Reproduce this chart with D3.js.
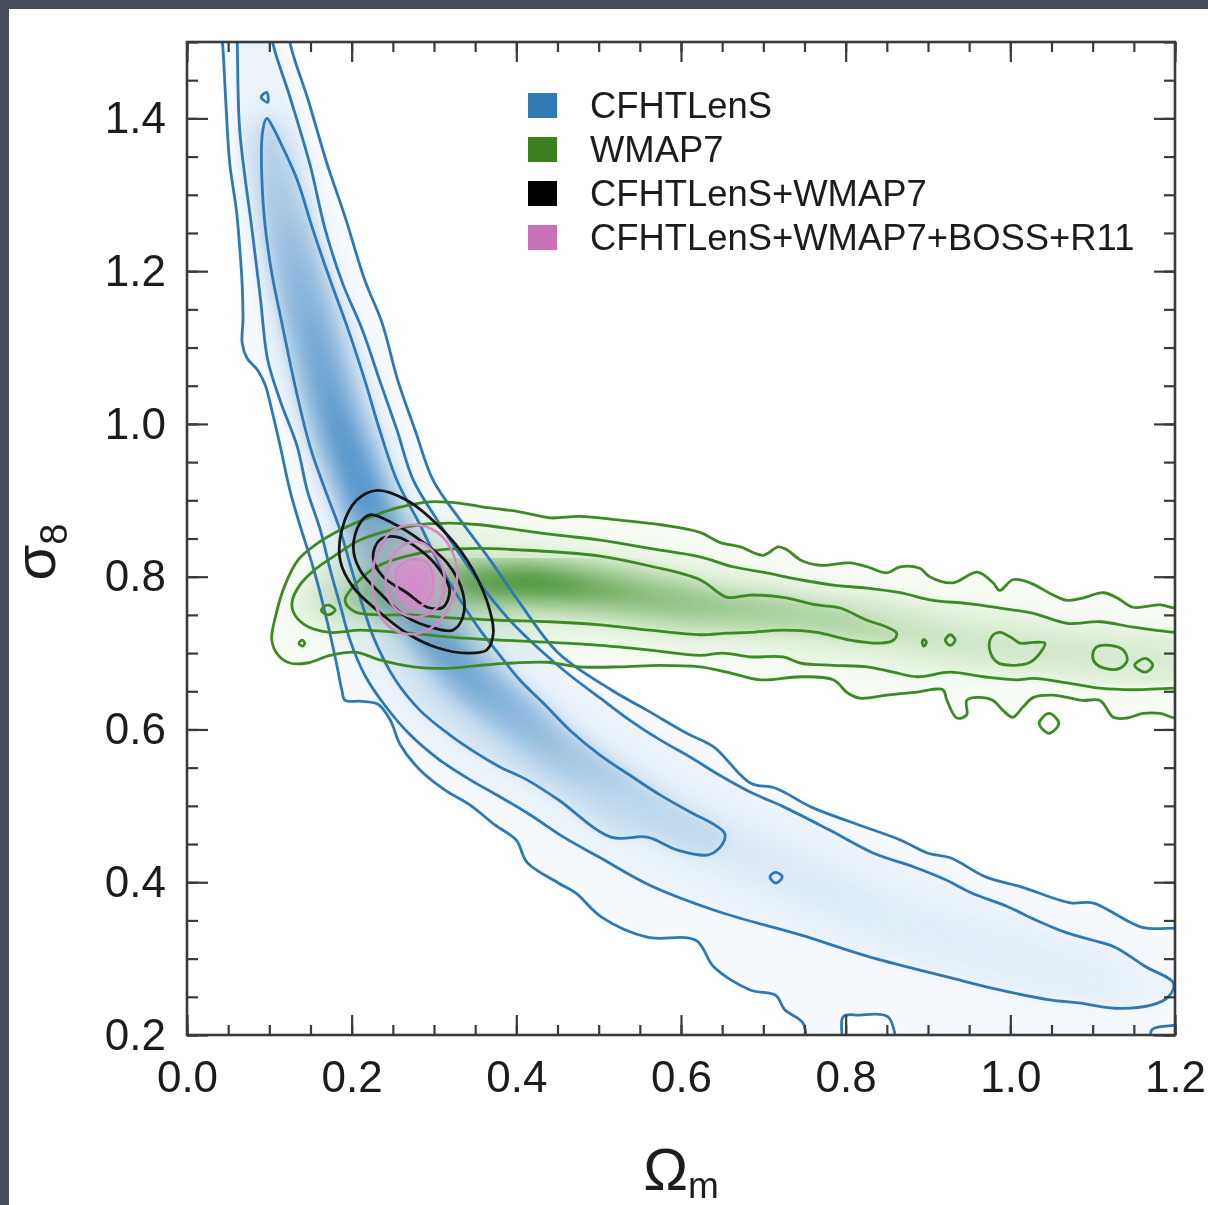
<!DOCTYPE html>
<html>
<head>
<meta charset="utf-8">
<script src="https://cdn.jsdelivr.net/npm/d3@7"></script>
<style>
  html, body { margin: 0; padding: 0; background: #474c5a; }
  svg { display: block; }
  text { font-family: "Liberation Sans", Arimo, Helvetica, Arial, sans-serif; }
</style>
</head>
<body>
<svg id="chart" width="1208" height="1205"></svg>
<script>
// ---------------------------------------------------------------
// Axis ranges and ticks
// ---------------------------------------------------------------
const omegaDomain = [0.0, 1.2];
const sigmaDomain = [0.2, 1.5];
const xMajorTicks = [0.0, 0.2, 0.4, 0.6, 0.8, 1.0, 1.2];
const yMajorTicks = [0.2, 0.4, 0.6, 0.8, 1.0, 1.2, 1.4];
const xMinorTicks = d3.range(0, 1.2001, 0.05);
const yMinorTicks = d3.range(0.2, 1.5001, 0.05);

// Legend
const legendLabels = ["CFHTLenS", "WMAP7", "CFHTLenS+WMAP7", "CFHTLenS+WMAP7+BOSS+R11"];
const legendColors = ["#2f79b5", "#3c7f1d", "#000000", "#c970b8"];

// ---------------------------------------------------------------
// Confidence contours, [Omega_m, sigma_8] along each closed curve
// ---------------------------------------------------------------
// CFHTLenS
const cfhtOuter = [
  [0.040,1.522],[0.043,1.500],[0.047,1.424],[0.052,1.340],[0.060,1.280],[0.064,1.231],
  [0.067,1.182],[0.068,1.136],[0.067,1.106],[0.073,1.086],[0.086,1.070],[0.095,1.051],
  [0.103,1.018],[0.113,0.972],[0.125,0.913],[0.137,0.868],[0.153,0.813],[0.164,0.769],
  [0.174,0.724],[0.182,0.684],[0.188,0.652],[0.192,0.638],[0.210,0.637],[0.232,0.633],
  [0.247,0.612],[0.259,0.580],[0.283,0.547],[0.313,0.521],[0.344,0.501],[0.374,0.475],
  [0.400,0.455],[0.413,0.426],[0.451,0.399],[0.472,0.386],[0.504,0.354],[0.559,0.328],
  [0.618,0.324],[0.640,0.289],[0.684,0.259],[0.715,0.252],[0.726,0.233],[0.748,0.216],
  [0.757,0.180],[0.793,0.180],[0.797,0.224],[0.817,0.226],[0.851,0.224],[0.872,0.180],
  [1.167,0.180],[1.172,0.207],[1.200,0.213],[1.224,0.220],
  [1.224,0.340],[1.200,0.340],[1.160,0.341],[1.100,0.373],[1.073,0.373],[1.013,0.394],
  [0.970,0.407],[0.927,0.432],[0.900,0.438],[0.867,0.455],[0.824,0.472],[0.759,0.498],
  [0.715,0.523],[0.684,0.530],[0.640,0.577],[0.607,0.595],[0.559,0.625],[0.515,0.652],
  [0.451,0.700],[0.402,0.769],[0.368,0.822],[0.332,0.874],[0.299,0.926],[0.277,0.992],
  [0.256,1.057],[0.237,1.132],[0.216,1.188],[0.192,1.271],[0.170,1.341],[0.146,1.428],
  [0.131,1.476],[0.125,1.500],[0.124,1.522]
];
const cfhtMiddle = [
  [0.060,1.522],[0.061,1.500],[0.064,1.385],[0.079,1.254],[0.089,1.166],[0.098,1.084],
  [0.113,1.031],[0.134,0.970],[0.146,0.913],[0.162,0.861],[0.174,0.809],[0.186,0.763],
  [0.198,0.717],[0.216,0.671],[0.240,0.632],[0.271,0.593],[0.307,0.560],[0.344,0.534],
  [0.380,0.512],[0.417,0.488],[0.459,0.458],[0.502,0.432],[0.562,0.396],[0.647,0.361],
  [0.745,0.331],[0.830,0.302],[0.927,0.275],[0.987,0.259],[1.048,0.246],[1.083,0.242],
  [1.127,0.235],[1.171,0.239],[1.192,0.250],[1.198,0.268],[1.165,0.289],[1.127,0.315],
  [1.100,0.324],[1.068,0.334],[1.030,0.351],[0.997,0.368],[0.953,0.386],[0.922,0.403],
  [0.883,0.420],[0.834,0.438],[0.781,0.468],[0.726,0.498],[0.684,0.518],[0.647,0.540],
  [0.611,0.564],[0.575,0.586],[0.538,0.612],[0.502,0.641],[0.465,0.671],[0.429,0.704],
  [0.392,0.743],[0.362,0.782],[0.332,0.828],[0.304,0.874],[0.275,0.926],[0.255,0.992],
  [0.234,1.057],[0.213,1.123],[0.189,1.184],[0.168,1.254],[0.149,1.341],[0.125,1.428],
  [0.104,1.500],[0.103,1.522]
];
const cfhtInner = [
  [0.097,1.400],[0.092,1.384],[0.092,1.297],[0.101,1.210],[0.117,1.123],[0.131,1.051],
  [0.149,0.972],[0.168,0.913],[0.186,0.861],[0.200,0.809],[0.213,0.763],[0.228,0.717],
  [0.253,0.665],[0.283,0.625],[0.319,0.593],[0.356,0.566],[0.380,0.551],[0.413,0.534],
  [0.451,0.508],[0.515,0.459],[0.559,0.459],[0.596,0.442],[0.634,0.436],[0.651,0.451],
  [0.653,0.464],[0.641,0.475],[0.611,0.492],[0.575,0.514],[0.538,0.540],[0.502,0.566],
  [0.465,0.599],[0.435,0.632],[0.404,0.665],[0.380,0.697],[0.356,0.730],[0.332,0.769],
  [0.307,0.815],[0.283,0.868],[0.255,0.926],[0.234,0.992],[0.216,1.057],[0.194,1.129],
  [0.174,1.188],[0.153,1.254],[0.134,1.319],[0.115,1.365],[0.103,1.391]
];
const cfhtIslands = [
  [[0.090,1.428],[0.097,1.434],[0.098,1.421]],
  [[0.708,0.407],[0.715,0.413],[0.723,0.407],[0.715,0.399]]
];
// Ridge of the CFHTLenS posterior: [Omega_m, sigma_8, relative density]
const cfhtRidge = [
  [0.098,1.371,0.20],[0.113,1.293,0.30],[0.131,1.214,0.45],[0.149,1.136,0.60],
  [0.168,1.057,0.70],[0.186,0.992,0.80],[0.204,0.940,0.85],[0.222,0.887,0.85],
  [0.240,0.841,0.80],[0.259,0.796,0.75],[0.283,0.750,0.70],[0.313,0.704,0.70],
  [0.344,0.665,0.65],[0.380,0.632,0.55],[0.417,0.599,0.45],[0.453,0.566,0.35],
  [0.502,0.534,0.25],[0.562,0.495,0.15],[0.647,0.449,0.10],[0.745,0.403,0.07],
  [0.866,0.344,0.05],[0.987,0.305,0.04],[1.109,0.265,0.03]
];

// WMAP7
const wmapOuter = [
  [0.103,0.717],[0.108,0.750],[0.119,0.789],[0.135,0.822],[0.155,0.841],[0.186,0.861],
  [0.222,0.878],[0.259,0.891],[0.295,0.898],[0.332,0.896],[0.368,0.890],[0.404,0.885],
  [0.441,0.877],[0.477,0.879],[0.526,0.874],[0.575,0.868],[0.623,0.858],[0.647,0.845],
  [0.672,0.839],[0.700,0.828],[0.718,0.839],[0.729,0.835],[0.745,0.822],[0.769,0.815],
  [0.805,0.818],[0.826,0.813],[0.850,0.805],[0.866,0.813],[0.890,0.811],[0.902,0.800],
  [0.930,0.792],[0.960,0.806],[0.979,0.792],[0.987,0.782],[1.003,0.796],[1.024,0.792],
  [1.052,0.776],[1.069,0.769],[1.088,0.772],[1.113,0.779],[1.130,0.772],[1.149,0.760],
  [1.182,0.763],[1.200,0.759],[1.224,0.759],
  [1.224,0.615],[1.200,0.615],[1.182,0.621],[1.161,0.621],[1.142,0.615],[1.125,0.616],
  [1.109,0.638],[1.088,0.638],[1.069,0.642],[1.052,0.645],[1.028,0.642],[1.015,0.629],
  [1.003,0.616],[0.991,0.625],[0.979,0.638],[0.960,0.642],[0.947,0.638],[0.947,0.619],
  [0.935,0.615],[0.923,0.638],[0.918,0.652],[0.887,0.649],[0.850,0.645],[0.817,0.641],
  [0.802,0.648],[0.785,0.665],[0.745,0.669],[0.696,0.665],[0.656,0.675],[0.623,0.682],
  [0.575,0.684],[0.526,0.682],[0.477,0.682],[0.437,0.688],[0.396,0.687],[0.356,0.684],
  [0.316,0.680],[0.275,0.682],[0.234,0.691],[0.206,0.701],[0.174,0.697],[0.146,0.687],
  [0.125,0.687],[0.111,0.697]
];
const wmapMiddle = [
  [0.128,0.769],[0.137,0.789],[0.155,0.809],[0.180,0.828],[0.210,0.848],[0.247,0.861],
  [0.283,0.868],[0.319,0.870],[0.356,0.868],[0.404,0.861],[0.453,0.854],[0.502,0.848],
  [0.562,0.837],[0.623,0.826],[0.663,0.813],[0.704,0.805],[0.745,0.796],[0.785,0.789],
  [0.826,0.785],[0.866,0.779],[0.906,0.769],[0.947,0.765],[0.987,0.759],[1.028,0.752],
  [1.069,0.739],[1.109,0.741],[1.149,0.734],[1.200,0.727],[1.224,0.727],
  [1.224,0.654],[1.200,0.654],[1.149,0.652],[1.109,0.654],[1.069,0.661],[1.028,0.667],
  [1.008,0.665],[0.967,0.669],[0.927,0.675],[0.887,0.669],[0.858,0.675],[0.826,0.682],
  [0.785,0.684],[0.745,0.687],[0.724,0.695],[0.684,0.695],[0.651,0.700],[0.623,0.697],
  [0.562,0.704],[0.502,0.710],[0.441,0.714],[0.380,0.717],[0.319,0.721],[0.259,0.727],
  [0.210,0.730],[0.174,0.727],[0.143,0.737],[0.129,0.754]
];
const wmapInner = [
  [0.192,0.769],[0.210,0.796],[0.234,0.815],[0.271,0.828],[0.307,0.835],[0.356,0.837],
  [0.404,0.835],[0.453,0.832],[0.502,0.827],[0.562,0.814],[0.623,0.796],[0.656,0.773],
  [0.684,0.776],[0.724,0.773],[0.765,0.763],[0.793,0.759],[0.826,0.743],[0.850,0.734],
  [0.862,0.726],[0.858,0.717],[0.842,0.713],[0.805,0.717],[0.765,0.727],[0.724,0.730],
  [0.684,0.727],[0.656,0.726],[0.623,0.724],[0.562,0.730],[0.502,0.737],[0.441,0.741],
  [0.380,0.743],[0.319,0.746],[0.271,0.750],[0.234,0.750],[0.204,0.754]
];
const wmapIslands = [
  [[0.977,0.721],[0.987,0.727],[1.000,0.721],[1.012,0.713],[1.028,0.714],[1.042,0.713],
   [1.036,0.700],[1.024,0.688],[1.003,0.684],[0.984,0.688],[0.975,0.704]],
  [[1.100,0.697],[1.105,0.708],[1.121,0.710],[1.137,0.704],[1.142,0.691],[1.133,0.680],
   [1.115,0.680],[1.103,0.687]],
  [[1.151,0.684],[1.164,0.693],[1.173,0.684],[1.164,0.675]],
  [[0.921,0.717],[0.927,0.724],[0.933,0.717],[0.927,0.710]],
  [[0.893,0.714],[0.895,0.718],[0.898,0.714],[0.895,0.709]],
  [[1.035,0.608],[1.047,0.621],[1.059,0.608],[1.047,0.595]],
  [[0.163,0.756],[0.171,0.763],[0.180,0.756],[0.171,0.750]],
  [[0.136,0.713],[0.140,0.717],[0.143,0.713],[0.140,0.709]]
];
const wmapRidge = [
  [0.162,0.769,0.12],[0.210,0.776,0.25],[0.259,0.783,0.40],[0.307,0.789,0.55],
  [0.356,0.792,0.75],[0.404,0.793,0.95],[0.453,0.789,0.85],[0.502,0.783,0.65],
  [0.562,0.773,0.50],[0.623,0.763,0.40],[0.696,0.756,0.30],[0.769,0.746,0.25],
  [0.842,0.737,0.20],[0.927,0.717,0.15],[1.012,0.707,0.14],[1.109,0.697,0.12],
  [1.194,0.691,0.10]
];

// CFHTLenS+WMAP7
const jointOuter = [
  [0.231,0.913],[0.267,0.900],[0.307,0.865],[0.340,0.822],[0.364,0.769],[0.372,0.726],
  [0.364,0.704],[0.340,0.700],[0.304,0.707],[0.267,0.726],[0.231,0.756],[0.202,0.786],
  [0.186,0.822],[0.189,0.865],[0.206,0.900]
];
const jointMiddle = [
  [0.222,0.881],[0.250,0.870],[0.283,0.848],[0.316,0.818],[0.335,0.779],[0.335,0.747],
  [0.323,0.730],[0.299,0.733],[0.267,0.747],[0.234,0.779],[0.210,0.809],[0.202,0.839],
  [0.210,0.870]
];
const jointInner = [
  [0.234,0.848],[0.255,0.852],[0.283,0.835],[0.307,0.809],[0.319,0.783],[0.311,0.760],
  [0.292,0.760],[0.267,0.779],[0.238,0.800],[0.226,0.826]
];

// CFHTLenS+WMAP7+BOSS+R11
const allOuter = [
  [0.231,0.831],[0.247,0.858],[0.275,0.868],[0.304,0.858],[0.323,0.831],[0.328,0.796],
  [0.316,0.756],[0.292,0.730],[0.262,0.726],[0.238,0.743],[0.226,0.779],[0.226,0.809]
];
const allMiddle = [
  [0.243,0.809],[0.259,0.839],[0.283,0.845],[0.304,0.826],[0.313,0.796],[0.304,0.760],
  [0.279,0.747],[0.255,0.756],[0.243,0.779]
];
const allInner = [
  [0.255,0.809],[0.271,0.822],[0.292,0.818],[0.299,0.796],[0.295,0.773],[0.279,0.760],
  [0.262,0.769],[0.255,0.786]
];

// ---------------------------------------------------------------
// Layout
// ---------------------------------------------------------------
const W = 1208, H = 1205;
const plot = { left: 187, right: 1175, top: 42, bottom: 1035 };

const svg = d3.select("#chart");
const x = d3.scaleLinear().domain(omegaDomain).range([plot.left, plot.right]);
const y = d3.scaleLinear().domain(sigmaDomain).range([plot.bottom, plot.top]);

// Slide backdrop and white page
svg.append("rect").attr("width", W).attr("height", H).attr("fill", "#474c5a");
svg.append("rect").attr("x", 9).attr("y", 9).attr("width", W).attr("height", H).attr("fill", "#ffffff");

const defs = svg.append("defs");
defs.append("clipPath").attr("id", "plotClip")
  .append("rect")
  .attr("x", plot.left).attr("y", plot.top)
  .attr("width", plot.right - plot.left).attr("height", plot.bottom - plot.top);
function blurFilter(id, sd) {
  defs.append("filter").attr("id", id)
    .attr("x", "-30%").attr("y", "-30%").attr("width", "160%").attr("height", "160%")
    .append("feGaussianBlur").attr("stdDeviation", sd);
}
blurFilter("soft", 5);
blurFilter("ridge", 12);
blurFilter("core", 7);

const closed = d3.line()
  .x(d => x(d[0])).y(d => y(d[1]))
  .curve(d3.curveCatmullRomClosed.alpha(0.5));
const open = d3.line()
  .x(d => x(d[0])).y(d => y(d[1]))
  .curve(d3.curveCatmullRom.alpha(0.5));

const area = svg.append("g").attr("clip-path", "url(#plotClip)");

// A stroke along the ridge whose opacity follows the density values,
// graded along one screen axis (the ridge is monotone along it).
function ridgeGradient(id, ridge, color, gain, axis) {
  const pos = axis === "y" ? ridge.map(d => y(d[1])) : ridge.map(d => x(d[0]));
  const p0 = d3.min(pos), p1 = d3.max(pos);
  const grad = defs.append("linearGradient").attr("id", id)
    .attr("gradientUnits", "userSpaceOnUse")
    .attr("x1", axis === "y" ? 0 : p0).attr("x2", axis === "y" ? 0 : p1)
    .attr("y1", axis === "y" ? p0 : 0).attr("y2", axis === "y" ? p1 : 0);
  const stops = ridge.map((d, i) => ({ o: (pos[i] - p0) / (p1 - p0), a: Math.min(1, d[2] * gain) }))
    .sort((a, b) => a.o - b.o);
  grad.selectAll("stop").data(stops).join("stop")
    .attr("offset", d => d.o)
    .attr("stop-color", color)
    .attr("stop-opacity", d => d.a);
  return `url(#${id})`;
}

function densityLayer(levels, tints, ridge, ridgeColor, ridgeWidth, gain, axis, id) {
  const g = area.append("g").style("mix-blend-mode", "multiply");
  const fills = g.append("g").attr("filter", "url(#soft)");
  levels.forEach((lv, i) => {
    fills.append("path").attr("d", closed(lv)).attr("fill", tints[i]);
  });
  const paint = ridgeGradient(id, ridge, ridgeColor, gain, axis);
  g.append("path")
    .attr("d", open(ridge))
    .attr("fill", "none")
    .attr("stroke", paint)
    .attr("stroke-width", ridgeWidth)
    .attr("stroke-linecap", "round")
    .attr("filter", "url(#ridge)");
  return g;
}

densityLayer([cfhtOuter, cfhtMiddle, cfhtInner],
  ["#f5f9fd", "#eaf2fa", "#d6e6f3"], cfhtRidge, "#3582c2", 46, 0.95, "y", "cfhtRidgeGrad");
densityLayer([wmapOuter, wmapMiddle, wmapInner],
  ["#f6fbf4", "#e9f5e4", "#d4ebcb"], wmapRidge, "#3f8f2c", 34, 1.1, "x", "wmapRidgeGrad");

// Joint posteriors: a grey haze in the CFHTLenS+WMAP7 core and a pink core on top
const jointShade = area.append("g").attr("filter", "url(#core)");
jointShade.append("path").attr("d", closed(jointMiddle)).attr("fill", "#c4c9cd").attr("fill-opacity", 0.4);
jointShade.append("path").attr("d", closed(jointInner)).attr("fill", "#aeb2b6").attr("fill-opacity", 0.55);
const pinkShade = area.append("g").attr("filter", "url(#soft)");
pinkShade.append("path").attr("d", closed(allMiddle)).attr("fill", "#e2aad8").attr("fill-opacity", 0.35);
pinkShade.append("path").attr("d", closed(allInner)).attr("fill", "#d88acb").attr("fill-opacity", 0.85);

// Contour lines
function contourLines(curves, color, width) {
  const g = area.append("g")
    .attr("fill", "none").attr("stroke", color)
    .attr("stroke-width", width).attr("stroke-linejoin", "round");
  curves.forEach(c => g.append("path").attr("d", closed(c)));
}
contourLines([cfhtOuter, cfhtMiddle, cfhtInner, ...cfhtIslands], "#2e78b4", 2.8);
contourLines([wmapOuter, wmapMiddle, wmapInner, ...wmapIslands], "#3b8a24", 2.8);
contourLines([jointOuter, jointMiddle, jointInner], "#161616", 2.8);
contourLines([allOuter, allMiddle, allInner], "#d786c5", 2.5);

// ---------------------------------------------------------------
// Frame, ticks and tick labels
// ---------------------------------------------------------------
const axisColor = "#3a3a3a";
const fmt = d3.format(".1f");
function styleAxis(g) {
  g.select(".domain").remove();
  g.selectAll("line").attr("stroke", axisColor).attr("stroke-width", 2.2);
  g.selectAll("text")
    .attr("fill", "#1c1c1c")
    .style("font-size", "44px")
    .style("font-family", "'Liberation Sans', Arimo, Helvetica, Arial, sans-serif");
}
const axes = svg.append("g");
// bottom
axes.append("g").attr("transform", `translate(0,${plot.bottom})`)
  .call(d3.axisBottom(x).tickValues(xMinorTicks).tickSize(-10).tickFormat("")).call(styleAxis);
axes.append("g").attr("transform", `translate(0,${plot.bottom})`)
  .call(d3.axisBottom(x).tickValues(xMajorTicks).tickSize(-20).tickPadding(26).tickFormat(fmt)).call(styleAxis);
// top
axes.append("g").attr("transform", `translate(0,${plot.top})`)
  .call(d3.axisTop(x).tickValues(xMinorTicks).tickSize(-10).tickFormat("")).call(styleAxis);
axes.append("g").attr("transform", `translate(0,${plot.top})`)
  .call(d3.axisTop(x).tickValues(xMajorTicks).tickSize(-20).tickFormat("")).call(styleAxis);
// left
axes.append("g").attr("transform", `translate(${plot.left},0)`)
  .call(d3.axisLeft(y).tickValues(yMinorTicks).tickSize(-11).tickFormat("")).call(styleAxis);
axes.append("g").attr("transform", `translate(${plot.left},0)`)
  .call(d3.axisLeft(y).tickValues(yMajorTicks).tickSize(-21).tickPadding(21).tickFormat(fmt)).call(styleAxis);
// right
axes.append("g").attr("transform", `translate(${plot.right},0)`)
  .call(d3.axisRight(y).tickValues(yMinorTicks).tickSize(-11).tickFormat("")).call(styleAxis);
axes.append("g").attr("transform", `translate(${plot.right},0)`)
  .call(d3.axisRight(y).tickValues(yMajorTicks).tickSize(-21).tickFormat("")).call(styleAxis);

axes.append("rect")
  .attr("x", plot.left).attr("y", plot.top)
  .attr("width", plot.right - plot.left).attr("height", plot.bottom - plot.top)
  .attr("fill", "none").attr("stroke", axisColor).attr("stroke-width", 2.6);

// Axis titles
const xTitle = svg.append("text")
  .attr("x", (plot.left + plot.right) / 2).attr("y", 1190)
  .attr("text-anchor", "middle").attr("fill", "#1c1c1c");
xTitle.append("tspan").style("font-size", "60px").text("Ω");
xTitle.append("tspan").style("font-size", "37px").attr("dy", 8).text("m");

const yTitle = svg.append("text")
  .attr("transform", "translate(55,552) rotate(-90)")
  .attr("text-anchor", "middle").attr("fill", "#1c1c1c");
yTitle.append("tspan").style("font-size", "58px").text("σ");
yTitle.append("tspan").style("font-size", "38px").attr("dy", 12).text("8");

// Legend
const legend = svg.append("g").attr("transform", "translate(528,93)");
const rowH = 44;
legend.selectAll("rect").data(legendLabels).join("rect")
  .attr("x", 0).attr("y", (d, i) => i * rowH)
  .attr("width", 29).attr("height", 25)
  .attr("fill", (d, i) => legendColors[i]);
legend.selectAll("text").data(legendLabels).join("text")
  .attr("x", 62).attr("y", (d, i) => i * rowH + 25)
  .attr("fill", "#1c1c1c").style("font-size", "36.4px")
  .text(d => d);
</script>
</body>
</html>
